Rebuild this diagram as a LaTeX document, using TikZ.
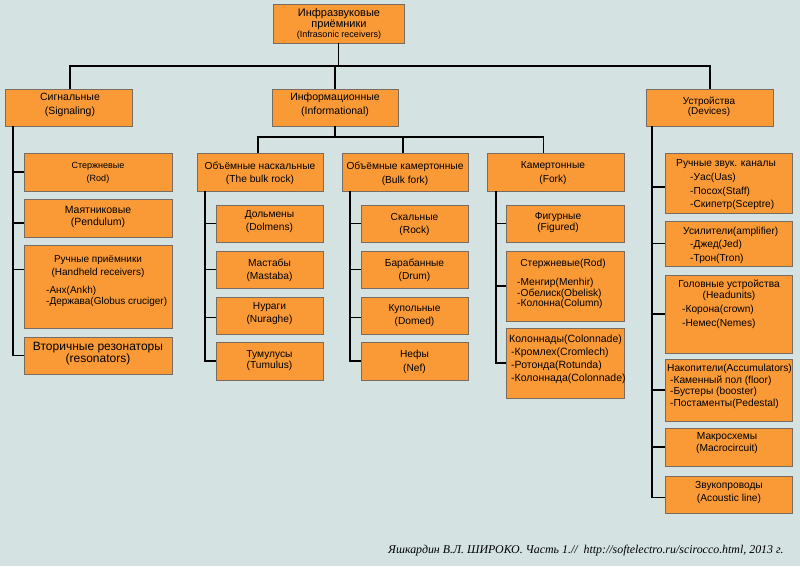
\documentclass[tikz,border=0pt]{standalone}
\usepackage{fontspec}
\setmainfont{Liberation Sans}
\newfontfamily\footfont{Liberation Serif}
\definecolor{bgc}{RGB}{212,226,226}
\definecolor{boxc}{RGB}{250,154,54}
\definecolor{edgec}{RGB}{120,108,98}
\newcommand\bx[5]{\node[box, minimum width={#4-#2}, minimum height={#5-#3}] (#1) at ({(#2+#4)/2},{(#3+#5)/2}) {};}
\tikzset{
 box/.style={draw=edgec, fill=boxc, line width=0.9pt, inner sep=0pt, outer sep=0pt, rectangle},
 t/.style={inner sep=0pt, align=center, font=\fontsize{10.2}{13}\selectfont},
 tl/.style={inner sep=0pt, align=left, anchor=west, font=\fontsize{10.2}{13}\selectfont},
 link/.style={draw=black, line width=1.2pt},
}
\begin{document}
\begin{tikzpicture}[x=1pt,y=-1pt]
\fill[bgc] (0,0) rectangle (800,566);
\useasboundingbox (0,0) rectangle (800,566);
% boxes
\bx{top}{273}{4}{404}{43}
\bx{sig}{5}{89}{132}{126}
\bx{inf}{272}{89}{398}{126}
\bx{dev}{646}{89}{773}{126}
\bx{srod}{24}{153}{172}{191}
\bx{spend}{24}{199}{172}{237}
\bx{shand}{24}{245}{172}{328}
\bx{sres}{24}{337}{172}{374}
\bx{br}{197}{153}{323}{191}
\bx{dol}{216}{205}{323}{242}
\bx{mas}{216}{251}{323}{288}
\bx{nur}{216}{297}{323}{334}
\bx{tum}{216}{342}{323}{380}
\bx{bf}{342}{153}{468}{191}
\bx{rock}{361}{205}{468}{242}
\bx{drum}{361}{251}{468}{288}
\bx{dome}{361}{297}{468}{334}
\bx{nef}{361}{342}{468}{380}
\bx{fk}{487}{153}{624}{191}
\bx{fig}{506}{205}{624}{242}
\bx{frod}{506}{251}{624}{321}
\bx{col}{506}{328}{624}{398}
\bx{dhand}{665}{153}{792}{213}
\bx{amp}{665}{221}{792}{266}
\bx{head}{665}{275}{792}{353}
\bx{acc}{665}{359}{792}{421}
\bx{macro}{665}{428}{792}{466}
\bx{acl}{665}{476}{792}{513}
% connectors
\coordinate (bus) at (0,66);
\draw[link] (top.south) -- (top.south |- bus);
\draw[link] ([xshift=1.5pt]sig.north) |- ([xshift=0.5pt]dev.north |- bus) -- ([xshift=0.5pt]dev.north);
\draw[link] (inf.north) -- (inf.north |- bus);
\coordinate (ibus) at (0,137);
\draw[link] (inf.south) -- (inf.south |- ibus);
\draw[link] ([xshift=-2pt]br.north) |- ([xshift=-12pt]fk.north |- ibus) -- ([xshift=-12pt]fk.north);
\draw[link] ([xshift=-2pt]bf.north) -- ([xshift=-2pt]bf.north |- ibus);
\coordinate (st) at ([xshift=8pt]sig.south west);
\draw[link] (st) |- (srod.west);
\draw[link] (st) |- ([yshift=-5pt]spend.west);
\draw[link] (st) |- ([yshift=17pt]shand.west);
\draw[link] (st) |- (sres.west);
\coordinate (brt) at ([xshift=8pt]br.south west);
\draw[link] (brt) |- (dol.west);
\draw[link] (brt) |- (mas.west);
\draw[link] (brt) |- ([yshift=-2pt]nur.west);
\draw[link] (brt) |- (tum.west);
\coordinate (bft) at ([xshift=8pt]bf.south west);
\draw[link] (bft) |- (rock.west);
\draw[link] (bft) |- (drum.west);
\draw[link] (bft) |- ([yshift=-2pt]dome.west);
\draw[link] (bft) |- (nef.west);
\coordinate (fkt) at ([xshift=9pt]fk.south west);
\draw[link] (fkt) |- (fig.west);
\draw[link] (fkt) |- (frod.west);
\draw[link] (fkt) |- (col.west);
\coordinate (dvt) at ([xshift=6pt]dev.south west);
\draw[link] (dvt) |- ([yshift=-4pt]dhand.west);
\draw[link] (dvt) |- (amp.west);
\draw[link] (dvt) |- (head.west);
\draw[link] (dvt) |- (acc.west);
\draw[link] (dvt) |- (macro.west);
\draw[link] (dvt) |- ([yshift=-3pt]acl.west);
% texts
\node[t, font=\fontsize{11}{10.5}\selectfont] (ttop) at (339,24) {Инфразвуковые\\приёмники\\{\fontsize{9}{10}\selectfont(Infrasonic receivers)}};
\node[t, font=\fontsize{10.5}{14}\selectfont] (tsig) at (70,105) {Сигнальные\\(Signaling)};
\node[t, font=\fontsize{10.5}{14}\selectfont] (tinf) at (335,105) {Информационные\\(Informational)};
\node[t, font=\fontsize{10}{10.5}\selectfont] (tdev) at (709,107) {Устройства\\(Devices)};
\node[t, font=\fontsize{9}{13}\selectfont] (tsrod) at (98,172.5) {Стержневые\\(Rod)};
\node[t, font=\fontsize{10.5}{12}\selectfont] (tspend) at (98,217) {Маятниковые\\(Pendulum)};
\node[t, font=\fontsize{10}{13}\selectfont] (tshand) at (98,267) {Ручные приёмники\\(Handheld receivers)};
\node[tl, font=\fontsize{10}{11}\selectfont] (tshandl) at (46,296.5) {-Анх(Ankh)\\-Держава(Globus cruciger)};
\node[t, font=\fontsize{12}{12.5}\selectfont] (tsres) at (98,353.5) {Вторичные резонаторы\\(resonators)};
\node[t, font=\fontsize{10.2}{13}\selectfont] (tbr) at (260,173) {Объёмные наскальные\\(The bulk rock)};
\node[t] (tdol) at (269.5,221.5) {Дольмены\\(Dolmens)};
\node[t] (tmas) at (269.5,270.5) {Мастабы\\(Mastaba)};
\node[t] (tnur) at (269.5,313.5) {Нураги\\(Nuraghe)};
\node[t, font=\fontsize{10.2}{11}\selectfont] (ttum) at (269.5,361) {Тумулусы\\(Tumulus)};
\node[t, font=\fontsize{10.2}{14}\selectfont] (tbf) at (405,173.5) {Объёмные камертонные\\(Bulk fork)};
\node[t] (trock) at (414.5,224) {Скальные\\(Rock)};
\node[t] (tdrum) at (414.5,270) {Барабанные\\(Drum)};
\node[t] (tdome) at (414.5,316) {Купольные\\(Domed)};
\node[t, font=\fontsize{10.2}{14}\selectfont] (tnef) at (414.5,361.5) {Нефы\\(Nef)};
\node[t, font=\fontsize{10.2}{14}\selectfont] (tfk) at (553,173.5) {Камертонные\\(Fork)};
\node[t, font=\fontsize{10.2}{11}\selectfont] (tfig) at (558,223) {Фигурные\\(Figured)};
\node[t] (tfrod) at (563,264) {Стержневые(Rod)};
\node[tl, font=\fontsize{10.2}{10.5}\selectfont] (tfrodl) at (517,293.5) {-Менгир(Menhir)\\-Обелиск(Obelisk)\\-Колонна(Column)};
\node[tl, font=\fontsize{10.5}{13}\selectfont] (tcol) at (509,359.5) {Колоннады(Colonnade)\\\hspace*{2pt}-Кромлех(Cromlech)\\\hspace*{2pt}-Ротонда(Rotunda)\\\hspace*{2pt}-Колоннада(Colonnade)};
\node[tl, font=\fontsize{10.2}{13.5}\selectfont] (tdhand) at (676,164) {Ручные звук. каналы};
\node[tl, font=\fontsize{10.2}{13.5}\selectfont] (tdhandl) at (690,191.5) {-Уас(Uas)\\-Посох(Staff)\\-Скипетр(Sceptre)};
\node[tl] (tamp) at (683,232) {Усилители(amplifier)};
\node[tl, font=\fontsize{10.2}{14}\selectfont] (tampl) at (690,252) {-Джед(Jed)\\-Трон(Tron)};
\node[t, font=\fontsize{10.2}{11}\selectfont] (thead) at (729,290) {Головные устройства\\(Headunits)};
\node[tl, font=\fontsize{10.2}{14}\selectfont] (theadl) at (682,317) {-Корона(crown)\\-Немес(Nemes)};
\node[tl, font=\fontsize{10.2}{11.5}\selectfont] (tacc) at (667,386.5) {Накопители(Accumulators)\\\hspace*{3pt}-Каменный пол (floor)\\\hspace*{3pt}-Бустеры (booster)\\\hspace*{3pt}-Постаменты(Pedestal)};
\node[t, font=\fontsize{10.2}{12}\selectfont] (tmacro) at (727,443.5) {Макросхемы\\(Macrocircuit)};
\node[t, font=\fontsize{10.2}{13}\selectfont] (tacl) at (729,492) {Звукопроводы\\(Acoustic line)};
\node[inner sep=0pt, anchor=west, font=\footfont\itshape\fontsize{11.9}{13}\selectfont] (foot) at (388,550.5) {Яшкардин В.Л. ШИРОКО. Часть 1.//\ \ http://softelectro.ru/scirocco.html, 2013 г.};
\end{tikzpicture}
\end{document}
